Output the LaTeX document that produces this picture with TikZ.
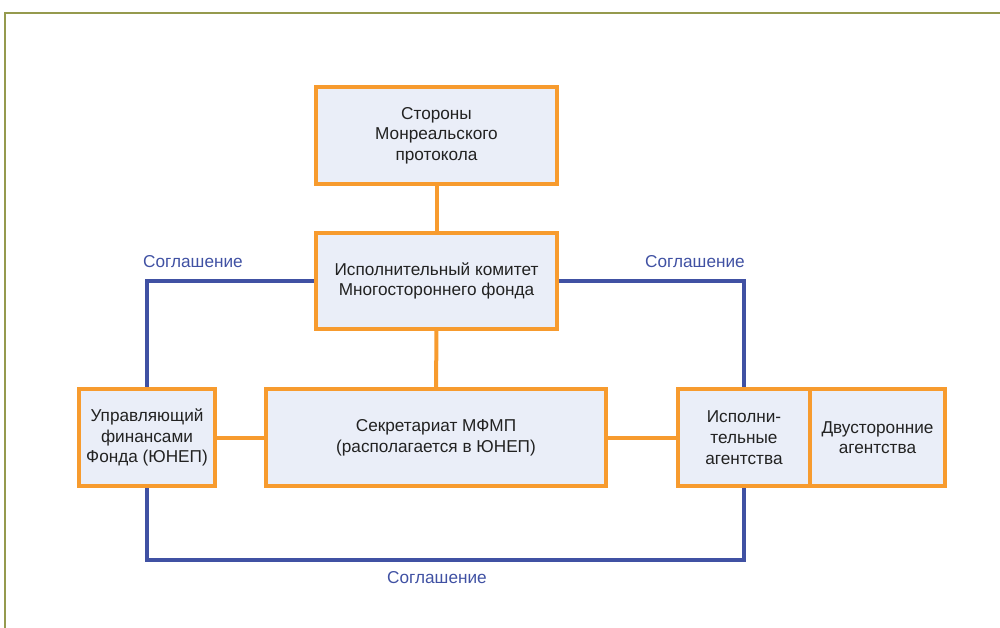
\documentclass[tikz,border=0pt]{standalone}
\usepackage{fontspec}
\setmainfont{Liberation Sans}
\usepackage{tikz}
\usetikzlibrary{positioning}

\definecolor{boxorange}{HTML}{F79B2E}
\definecolor{boxfill}{HTML}{EAEEF8}
\definecolor{agreeblue}{HTML}{4051A3}
\definecolor{frameolive}{HTML}{959A4E}
\definecolor{boxtext}{HTML}{222222}

\begin{document}
\begin{tikzpicture}[
  x=0.75pt, y=-0.75pt,
  orgbox/.style={draw=boxorange, line width=3pt, fill=boxfill, rectangle, align=center,
    text=boxtext, inner sep=2pt, font=\fontsize{12.9}{15.5}\selectfont},
  orgline/.style={draw=boxorange, line width=3pt},
  agreeline/.style={draw=agreeblue, line width=3pt},
  agreelabel/.style={text=agreeblue, font=\fontsize{12.9}{15.5}\selectfont}
]
\useasboundingbox (0,0) rectangle (1000,628);

% ===== Frame =====
\draw[frameolive, line width=1.2pt] (5,628) -- (5,13) -- (1000,13);

% ===== Top level =====
\node[orgbox, minimum width=180.75pt, minimum height=72.75pt] at (436.5,135.5) (parties) {Стороны\\Монреальского\\протокола};
\node[orgbox, minimum width=180.75pt, minimum height=72pt] at (436.5,281) (excom) {Исполнительный комитет\\Многостороннего фонда};

% ===== Bottom row =====
\node[orgbox, minimum width=102pt, minimum height=72.75pt] at (147,437.5) (treas) {Управляющий\\финансами\\Фонда (ЮНЕП)};
\node[orgbox, minimum width=255pt, minimum height=72.75pt] at (436,437.5) (secr) {Секретариат МФМП\\(располагается в ЮНЕП)};
\node[orgbox, minimum width=99pt, minimum height=72.75pt] at (744,437.5) (impl) {Исполни-\\тельные\\агентства};
\node[orgbox, minimum width=101.25pt, minimum height=72.75pt] at (877.5,437.5) (bilat) {Двусторонние\\агентства};

% ===== Reporting lines =====
\draw[orgline] (parties) -- (excom);
\draw[orgline] (excom) -- (secr);
\draw[orgline] (treas) -- (secr);
\draw[orgline] (secr) -- (impl);

% ===== Agreements =====
\draw[agreeline] (excom.west) -| (treas.north);
\draw[agreeline] (excom.east) -| (impl.north);
\draw[agreeline] (treas.south) -- ++(0,72) coordinate (agreebot) -| (impl.south);

\node[agreelabel] at (193,262) (agreeleft) {Соглашение};
\node[agreelabel] at (695,262) (agreeright) {Соглашение};
\node[agreelabel] at (437,578) (agreebottom) {Соглашение};

\end{tikzpicture}
\end{document}
